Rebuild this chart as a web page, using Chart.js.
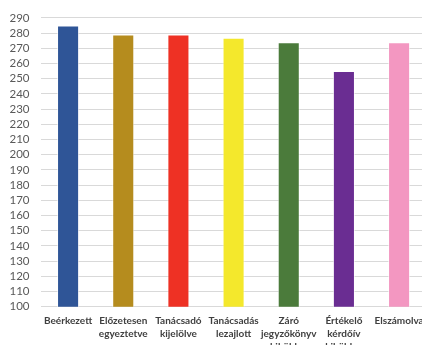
<!DOCTYPE html>
<html>
<head>
<meta charset="utf-8">
<script src="https://cdn.jsdelivr.net/npm/chart.js@4/dist/chart.umd.min.js"></script>
<style>
  html, body { margin: 0; padding: 0; background: #fff; overflow: hidden; }
  #wrap { width: 422px; height: 345px; overflow: hidden; position: relative; }
  canvas { position: absolute; left: 0; top: 0; }
</style>
</head>
<body>
<div id="wrap"><canvas id="c" width="432" height="360"></canvas></div>
<script>
const categories = [
  'Beérkezett',
  ['Előzetesen', 'egyeztetve'],
  ['Tanácsadó', 'kijelölve'],
  ['Tanácsadás', 'lezajlott'],
  ['Záró', 'jegyzőkönyv', 'kiküldve'],
  ['Értékelő', 'kérdőív', 'kiküldve'],
  'Elszámolva'
];
const counts = [285, 279, 279, 277, 274, 255, 274];
const barColors = ['#2F5597', '#B58C1E', '#EE3124', '#F4E82C', '#4B7B3B', '#6A2D92', '#F397C1'];
const yMin = 100, yMax = 290, yStep = 10;

new Chart(document.getElementById('c'), {
  type: 'bar',
  data: {
    labels: categories,
    datasets: [{
      data: counts,
      backgroundColor: barColors,
      borderColor: 'rgba(255,255,255,0.6)',
      borderWidth: 1,
      categoryPercentage: 1,
      barPercentage: 0.4
    }]
  },
  options: {
    responsive: false,
    devicePixelRatio: 1,
    animation: false,
    layout: { padding: { top: 15, right: 5, left: 0, bottom: 0 } },
    plugins: { legend: { display: false }, tooltip: { enabled: false } },
    scales: {
      y: {
        min: yMin, max: yMax,
        ticks: {
          stepSize: yStep, autoSkip: false, padding: 11, color: '#595959',
          font: { family: 'Lato', size: 11.5 }
        },
        grid: { color: '#d9d9d9', lineWidth: 1, drawTicks: false },
        border: { display: false },
        afterFit(s) { s.width = 40.5; }
      },
      x: {
        ticks: {
          maxRotation: 0, autoSkip: false, padding: 8, color: '#404040',
          font: { family: 'Lato', size: 10, weight: 'bold', lineHeight: 1.27 }
        },
        grid: { display: false, drawTicks: false },
        border: { display: false },
        afterFit(s) { s.height = 53.3; }
      }
    }
  }
});
</script>
</body>
</html>
